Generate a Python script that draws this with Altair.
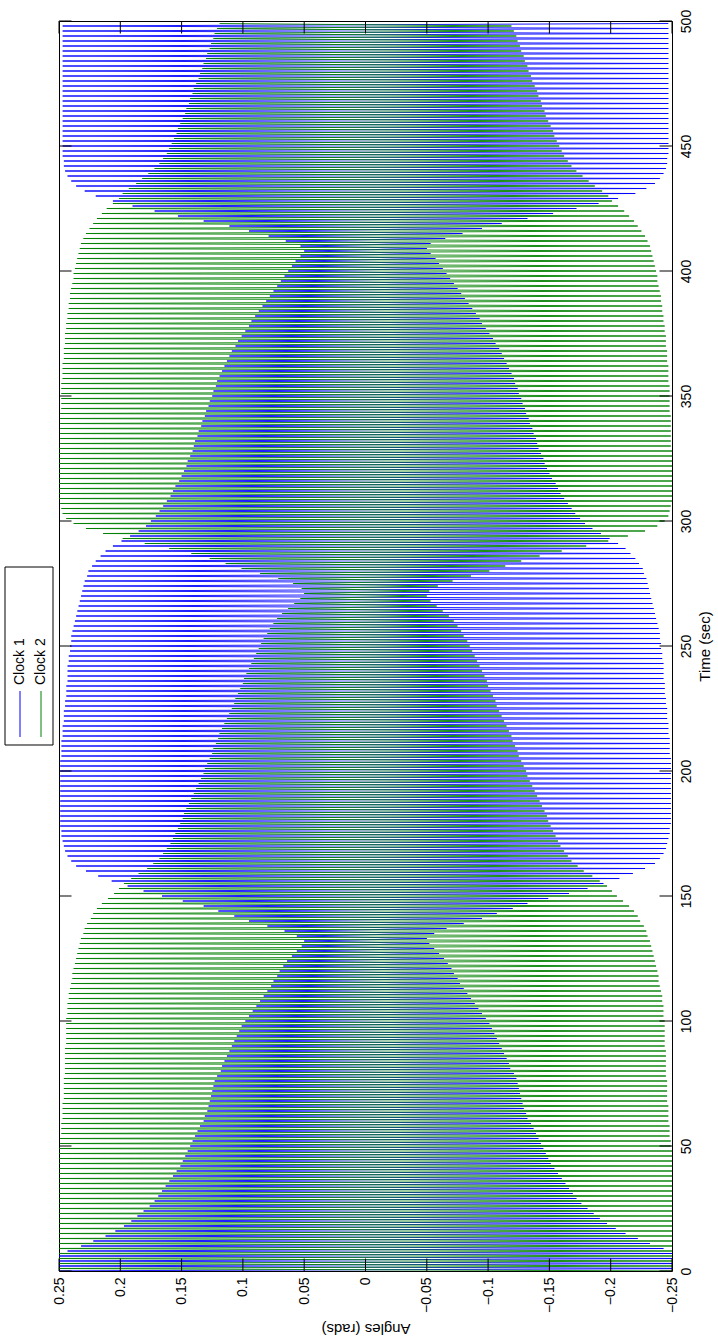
import altair as alt
import pandas as pd

# Peak swing amplitude (rad) of each clock, one value per swing, swings start every 2 s
swing_period = 2.0
clock1_amp = [
    0.290, 0.275, 0.262, 0.252, 0.243, 0.232, 0.222, 0.212, 0.204, 0.197,
    0.191, 0.186, 0.181, 0.176, 0.172, 0.169, 0.166, 0.163, 0.160, 0.157,
    0.154, 0.151, 0.149, 0.147, 0.145, 0.143, 0.141, 0.139, 0.137, 0.135,
    0.132, 0.131, 0.129, 0.128, 0.127, 0.126, 0.125, 0.124, 0.123, 0.121,
    0.118, 0.117, 0.115, 0.113, 0.111, 0.109, 0.107, 0.105, 0.103, 0.101,
    0.098, 0.095, 0.092, 0.089, 0.086, 0.083, 0.080, 0.077, 0.075, 0.072,
    0.070, 0.067, 0.064, 0.060, 0.056, 0.052, 0.050, 0.056, 0.066, 0.080,
    0.095, 0.107, 0.120, 0.132, 0.149, 0.166, 0.181, 0.194, 0.207, 0.218,
    0.228, 0.236, 0.240, 0.243, 0.245, 0.246, 0.247, 0.248, 0.248, 0.249,
    0.249, 0.249, 0.249, 0.249, 0.249, 0.249, 0.249, 0.249, 0.249, 0.249,
    0.249, 0.249, 0.249, 0.248, 0.248, 0.248, 0.248, 0.247, 0.247, 0.247,
    0.246, 0.246, 0.246, 0.245, 0.245, 0.244, 0.244, 0.244, 0.243, 0.243,
    0.243, 0.243, 0.242, 0.242, 0.241, 0.241, 0.240, 0.240, 0.239, 0.238,
    0.237, 0.236, 0.235, 0.234, 0.233, 0.232, 0.231, 0.230, 0.229, 0.227,
    0.226, 0.223, 0.220, 0.216, 0.212, 0.206, 0.199, 0.192, 0.185, 0.179,
    0.175, 0.171, 0.168, 0.165, 0.162, 0.159, 0.157, 0.155, 0.152, 0.150,
    0.148, 0.146, 0.145, 0.143, 0.141, 0.140, 0.139, 0.137, 0.136, 0.134,
    0.133, 0.131, 0.130, 0.128, 0.127, 0.125, 0.124, 0.122, 0.121, 0.119,
    0.117, 0.115, 0.113, 0.111, 0.109, 0.106, 0.104, 0.101, 0.098, 0.095,
    0.093, 0.090, 0.087, 0.084, 0.081, 0.078, 0.075, 0.072, 0.069, 0.066,
    0.063, 0.060, 0.057, 0.053, 0.050, 0.053, 0.065, 0.079, 0.095, 0.111,
    0.132, 0.153, 0.172, 0.190, 0.206, 0.220, 0.229, 0.236, 0.240, 0.243,
    0.245, 0.246, 0.246, 0.247, 0.247, 0.247, 0.247, 0.247, 0.247, 0.247,
    0.247, 0.247, 0.247, 0.247, 0.247, 0.247, 0.247, 0.247, 0.247, 0.247,
    0.247, 0.247, 0.247, 0.247, 0.247, 0.247, 0.247, 0.247, 0.247, 0.247,
]
clock2_amp = [
    0.262, 0.261, 0.260, 0.259, 0.258, 0.257, 0.257, 0.256, 0.255, 0.255,
    0.254, 0.254, 0.253, 0.253, 0.252, 0.252, 0.252, 0.251, 0.251, 0.251,
    0.250, 0.250, 0.250, 0.250, 0.250, 0.249, 0.249, 0.248, 0.248, 0.248,
    0.247, 0.247, 0.247, 0.247, 0.246, 0.246, 0.246, 0.246, 0.246, 0.245,
    0.245, 0.245, 0.245, 0.245, 0.245, 0.244, 0.244, 0.244, 0.244, 0.244,
    0.244, 0.243, 0.243, 0.243, 0.242, 0.242, 0.241, 0.240, 0.239, 0.239,
    0.238, 0.237, 0.236, 0.235, 0.234, 0.233, 0.232, 0.230, 0.229, 0.227,
    0.224, 0.222, 0.219, 0.215, 0.210, 0.205, 0.201, 0.197, 0.191, 0.185,
    0.178, 0.173, 0.168, 0.165, 0.162, 0.159, 0.157, 0.155, 0.153, 0.151,
    0.149, 0.148, 0.146, 0.144, 0.142, 0.140, 0.138, 0.136, 0.134, 0.132,
    0.131, 0.129, 0.127, 0.125, 0.124, 0.122, 0.120, 0.119, 0.117, 0.115,
    0.113, 0.111, 0.109, 0.107, 0.106, 0.104, 0.102, 0.100, 0.099, 0.097,
    0.095, 0.093, 0.091, 0.089, 0.087, 0.085, 0.083, 0.080, 0.078, 0.075,
    0.072, 0.068, 0.063, 0.058, 0.053, 0.050, 0.052, 0.059, 0.071, 0.086,
    0.101, 0.114, 0.127, 0.142, 0.160, 0.180, 0.198, 0.214, 0.228, 0.238,
    0.244, 0.247, 0.248, 0.249, 0.250, 0.250, 0.250, 0.250, 0.250, 0.250,
    0.250, 0.250, 0.250, 0.250, 0.250, 0.249, 0.249, 0.249, 0.249, 0.249,
    0.249, 0.249, 0.248, 0.248, 0.248, 0.248, 0.248, 0.248, 0.247, 0.247,
    0.247, 0.247, 0.246, 0.246, 0.246, 0.245, 0.245, 0.245, 0.244, 0.244,
    0.243, 0.243, 0.242, 0.242, 0.241, 0.241, 0.240, 0.239, 0.238, 0.238,
    0.237, 0.236, 0.235, 0.234, 0.233, 0.232, 0.230, 0.228, 0.225, 0.222,
    0.219, 0.215, 0.211, 0.206, 0.201, 0.198, 0.193, 0.187, 0.182, 0.177,
    0.172, 0.168, 0.165, 0.162, 0.160, 0.158, 0.156, 0.154, 0.153, 0.151,
    0.149, 0.147, 0.146, 0.144, 0.143, 0.141, 0.140, 0.138, 0.136, 0.135,
    0.133, 0.132, 0.130, 0.129, 0.127, 0.126, 0.124, 0.123, 0.121, 0.119,
]

series_names = ["Clock 1", "Clock 2"]
series_colors = ["#0000ff", "#008000"]
angle_ticks = [-0.25, -0.2, -0.15, -0.1, -0.05, 0, 0.05, 0.1, 0.15, 0.2, 0.25]
time_ticks = [0, 50, 100, 150, 200, 250, 300, 350, 400, 450, 500]

W, H = 613, 1250
TICK = 12.5
FONT = "Liberation Sans"


def swings(amps, name, phase):
    """Alternate +/- peaks, half a swing apart; phase -1 gives anti-phase."""
    rows = []
    for k, a in enumerate(amps):
        t0 = k * swing_period
        rows.append({"t": t0, "angle": phase * a, "clock": name})
        rows.append({"t": t0 + swing_period / 2, "angle": -phase * a, "clock": name})
    return pd.DataFrame(rows)


x_scale = alt.Scale(domain=[-0.25, 0.25], reverse=True, nice=False, zero=False)
y_scale = alt.Scale(domain=[0, 500], nice=False, zero=False)

x_axis = alt.Axis(
    values=angle_ticks, labelAngle=270, labelAlign="right", labelBaseline="middle",
    labelPadding=6, ticks=False, domain=False, grid=False,
    labelExpr="format(datum.value, '~g')",
    title="Angles (rads)", titleAngle=180, titleY=57, titleBaseline="middle",
    titleAlign="center", titleFontWeight="normal",
)
y_axis = alt.Axis(
    orient="right", values=time_ticks, labelAngle=270, labelAlign="center",
    labelBaseline="top", labelPadding=7, ticks=False, domain=False, grid=False,
    title="Time (sec)", titleAngle=270, titleX=32, titleY=H / 2,
    titleAlign="center", titleBaseline="middle", titleFontWeight="normal",
)


def clock_layer(df, color):
    return alt.Chart(df).mark_line(clip=True, strokeWidth=0.9, color=color).encode(
        x=alt.X("angle:Q", scale=x_scale, axis=x_axis),
        y=alt.Y("t:Q", scale=y_scale, axis=y_axis),
        order="t:Q",
    )


line1 = clock_layer(swings(clock1_amp, series_names[0], 1), series_colors[0])
line2 = clock_layer(swings(clock2_amp, series_names[1], -1), series_colors[1])

# inward tick marks on all four sides of the box
atick = pd.DataFrame({"angle": angle_ticks})
ttick = pd.DataFrame({"t": time_ticks})
tick_style = dict(color="black", strokeWidth=1)
bottom_ticks = alt.Chart(atick).mark_rule(**tick_style).encode(
    x=alt.X("angle:Q", scale=x_scale, axis=x_axis), y=alt.value(H), y2=alt.value(H - TICK))
top_ticks = alt.Chart(atick).mark_rule(**tick_style).encode(
    x=alt.X("angle:Q", scale=x_scale, axis=x_axis), y=alt.value(0), y2=alt.value(TICK))
right_ticks = alt.Chart(ttick).mark_rule(**tick_style).encode(
    y=alt.Y("t:Q", scale=y_scale, axis=y_axis), x=alt.value(W), x2=alt.value(W - TICK))
left_ticks = alt.Chart(ttick).mark_rule(**tick_style).encode(
    y=alt.Y("t:Q", scale=y_scale, axis=y_axis), x=alt.value(0), x2=alt.value(TICK))

# legend box, turned with the rest of the figure
one = pd.DataFrame({"k": [0]})
leg_box = alt.Chart(one).mark_rect(
    fill="white", stroke="black", strokeWidth=1
).encode(x=alt.value(-54), x2=alt.value(-6), y=alt.value(546), y2=alt.value(724))


def legend_entry(i, xpos):
    sample = alt.Chart(one).mark_rule(strokeWidth=1, color=series_colors[i]).encode(
        x=alt.value(xpos), y=alt.value(716), y2=alt.value(670))
    label = alt.Chart(one).mark_text(
        angle=270, align="left", baseline="middle", fontSize=14, font=FONT,
        color="black", text=series_names[i],
    ).encode(x=alt.value(xpos), y=alt.value(664))
    return [sample, label]


legend_layers = [leg_box] + legend_entry(0, -39) + legend_entry(1, -18)

chart = alt.layer(
    line1, line2, bottom_ticks, top_ticks, right_ticks, left_ticks, *legend_layers,
).properties(
    width=W, height=H,
    padding={"left": 59, "top": 21, "right": 46, "bottom": 71},
    autosize=alt.AutoSizeParams(type="none"),
    background="white",
).configure_view(
    stroke="black", strokeWidth=1
).configure_axis(
    labelFont=FONT, titleFont=FONT, labelFontSize=14, titleFontSize=15,
    labelColor="black", titleColor="black",
)

chart.save("out.html", embed_options={"renderer": "svg", "actions": False})
